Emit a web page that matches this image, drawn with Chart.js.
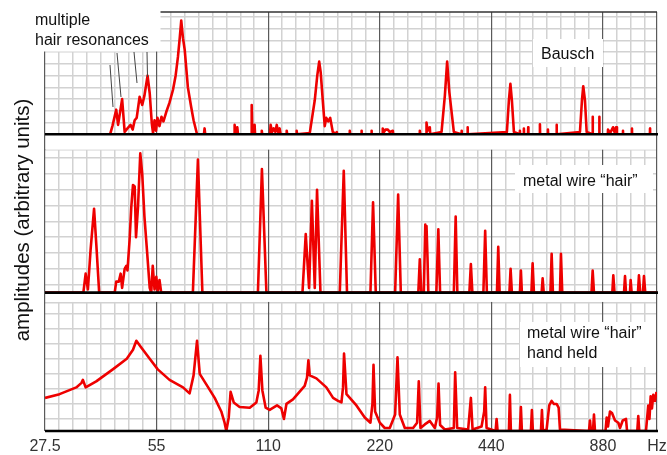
<!DOCTYPE html>
<html>
<head>
<meta charset="utf-8">
<script src="https://cdn.jsdelivr.net/npm/chart.js@4.4.1/dist/chart.umd.min.js"></script>
<style>
html,body{margin:0;padding:0;background:#fff;}
canvas{display:block;}
</style>
</head>
<body>
<canvas id="c" width="667" height="455"></canvas>
<script>
// ---- axis / tick data ----
const octaveTicks = [27.5, 55, 110, 220, 440, 880];
const xTickLabels = ['27.5', '55', '110', '220', '440', '880', 'Hz'];
const xMin = 27.5;
const xMax = 1231;
const gridPerOctave = 8;

const yTicksTop = [10, 20, 30, 40, 50, 60, 70, 80, 90, 100];
const yMaxTop = 104.3;
const yTicksMid = [5, 15, 25, 35, 45, 55, 65, 75, 85, 90];
const yMaxMid = 100;
const yTicksBot = [8, 18, 28, 38, 48, 58, 68, 78, 85.5];
const yMaxBot = 92;

const panelTitles = ['Bausch', 'metal wire \u201chair\u201d', 'metal wire \u201chair\u201d', 'hand held'];
const hairNote = ['multiple', 'hair resonances'];
const yAxisLabel = 'amplitudes (arbitrary units)';

// ---- series: [frequency Hz, amplitude] ----
const bausch = [
[27.5,0],[41.2,0],[41.8,7],[42.8,21],[43.3,8],[44.4,30],[45.1,2],[45.9,5],[46.8,8],[47.4,4],[48.0,12],[48.6,14],[49.5,32],[50.3,25],[51.0,33],[52.0,50],[52.7,35],[53.4,9],[53.8,1],[54.3,12],[54.8,3],[55.3,14],[56.0,7],[56.7,15],[57.4,11],[58.4,19],[59.6,27],[60.9,38],[61.9,50],[62.8,66],[63.5,82],[64.1,97],[64.8,82],[65.5,72],[66.8,40],[68.2,23],[69.2,12],[70.7,0],
[73.8,0],[74.1,5],[74.4,0],
[89.0,0],[89.3,8],[89.9,2],[90.8,6],[91.2,0],
[99.0,0],[99.3,25],[99.7,0],[100.8,0],[101.1,8],[101.4,0],
[105.4,0],[105.7,3],[106.0,0],
[111.2,0],[111.7,8],[112.7,2],[113.8,5],[115.0,2],[116.0,8],[117.0,2],[118.1,5],[118.8,0],
[123.0,0],[123.4,3],[123.8,0],[131.0,0],[131.3,3],[131.6,0],
[142.4,1],[146.9,29],[149.2,50],[151.0,62],[152.4,53],[154.4,29],[156.3,7],[157.8,14],[159.7,11],[161.7,14],[164.3,2],
[168.0,0],[168.4,2],[168.8,0],[182.2,0],[182.6,3],[183.0,0],[195.8,0],[196.3,3],[196.8,0],[208.4,0],[208.9,3],[209.4,0],
[223.5,0],[224.1,5],[226,2],[228,4],[231.3,4],[234,2],[238.6,3],[239.2,0],
[281.5,0],[282.1,3],[283,0],[293.3,0],[294.1,10],[296,3],[298,5],[300.2,6],[301,0],
[322.9,2],[329.6,33],[334.3,62],[338.9,36],[348.5,2],
[365,0],[365.6,3],[366.2,0],[379,0],[379.5,6],[380.1,0],
[484.5,2],[490.6,29],[495.2,43],[499.8,29],[506.1,2],
[524.7,0],[525.3,3],[526,0],[537.8,0],[538.5,5],[539.2,0],[552.4,0],[553.1,6],[553.8,0],[594.2,0],[594.9,8.5],[595.6,0],[624.5,0],[625.2,4],[626,0],[659.1,0],[659.9,8],[660.7,0],
[762.8,2],[772.4,29],[778.6,41],[786.9,29],[795.3,2],
[824.5,0],[825.5,15],[826.5,0],[859.2,0],[860.2,15],[861.2,0],
[907,0],[908.1,4],[920,1],[936.7,6],[945,2],[954.3,6],[960,0],[996,0],[996.6,3],[997.2,0],[1053,0],[1053.8,5],[1054.6,0],[1178,0],[1178.7,5],[1179.4,0],[1231,0]
];

const wire = [
[27.5,0],[34.9,0],[35.4,12],[35.9,2],[36.5,27],[37.3,53],[37.9,27],[38.5,0],
[42.4,0],[42.8,7],[43.5,7],[44.0,12],[44.4,3],[45.1,15],[45.6,17],[45.9,14],[46.5,33],[47.0,54],[47.5,68],[48.0,67],[48.4,35],[49.0,54],[49.7,88],[50.3,75],[51.0,48],[51.8,27],[52.7,3],[53.2,0],[53.7,17],[54.3,2],[54.9,10],[55.4,1],[56.0,8],[56.6,0],
[68.9,0],[71.1,84],[73.1,0],
[103.2,0],[105.8,78],[108.8,0],
[136.1,0],[138.9,37],[141.8,3],[144.3,58],[146.9,3],[149.0,65],[152.2,0],
[171.6,0],[175.9,77],[179.5,0],
[207.6,0],[211.0,57],[214.6,0],
[242.0,0],[246.6,62],[250.7,0],
[279.5,0],[282.1,21],[284.7,0],
[289.2,0],[291.9,43],[293.2,30],[294.1,42],[295.9,22],[297.4,0],
[312.6,0],[316.5,40],[320.0,0],
[348.5,0],[352.5,48],[356.2,0],
[383.8,0],[387.4,18],[391.0,0],
[418.7,0],[423.4,39],[427.9,0],
[455.5,0],[459.2,29],[463.2,0],
[492.1,0],[495.8,15],[499.8,0],
[525.3,0],[528.6,14],[531.8,0],
[564.3,0],[568.5,18.5],[573.1,0],
[601.2,0],[605.0,9],[609.1,0],
[635.0,0],[639.8,24.5],[644.9,0],
[673.7,0],[677.9,24.5],[683.4,0],
[819.5,0],[825.5,14],[832.2,0],
[932.6,0],[938.4,11],[945.4,0],
[1002.9,0],[1009.2,10.5],[1015.5,0],
[1040.6,0],[1045.1,8],[1051.6,0],
[1093.6,0],[1100.4,11],[1109.3,0],
[1128.1,0],[1135.1,10.5],[1144.4,0],[1231,0]
];

const handHeld = [
[27.5,22],[30.1,24.5],[33.4,29],[34.5,32],[34.8,34],[35.4,29],[37.8,33],[41.9,41],[45.7,48],[47.5,54],[48.5,60],[50.0,55.5],[52.7,48],[55.4,41],[59.6,34],[64.8,29],[67.5,25],[69.2,37],[70.7,60],[71.9,38],[74.9,31],[78.9,22],[82.2,13],[83.9,5.5],[84.8,0],[86.1,9],[87.1,26],[88.8,19],[92.1,16],[98.1,15.5],[102.2,19],[103.7,27],[104.8,50],[106.1,27],[108.3,15.5],[111.0,14],[116.2,17],[119.4,15],[121.3,8],[123.2,18],[128.3,21],[138.0,30],[140.0,35.5],[141.2,47],[142.4,37],[148.4,35],[157.9,29],[164.6,22],[169.8,20],[173.4,19],[175.1,29],[176.2,51.5],[178.9,24.5],[190.3,17],[200.4,9],[207.6,5.5],[210.2,18],[211.6,44],[213.7,13],[220.0,5.5],[226.9,2],[234.1,2],[242.0,11],[245.6,49],[249.1,11],[257.0,2],[270.6,2],[277.4,5.5],[280.3,33],[283.3,2],[291.0,4.4],[300.2,6.7],[309.7,2],[314.1,9],[316.9,31.5],[320.0,4],[329.6,1],[348.5,2],[351.4,39],[355.8,2],[380.9,1],[387.4,22],[391.5,1],[414.0,3],[420.8,13],[423.4,29],[427.1,2],
[451.7,0],[454.5,8],[457.4,0],[490.6,0],[493.7,24],[496.7,0],[525.3,0],[528.6,16],[531.8,0],[562.5,0],[565.9,14],[569.4,0],[598.7,0],[602.4,14],[606.1,0],
[620.1,1],[630.3,17],[639.8,20],[648.9,18],[659.9,18],[668.2,15.5],[673.7,1],
[806.8,0],[811.8,7],[816.9,0],[827.0,0],[832.2,11],[837.4,0],
[893.9,0],[900.6,9],[907.9,3],[919.3,13],[930.8,12],[948.4,7],[968.1,5.5],[978.4,2],[995.0,7],[1015.6,8],[1022.0,0],
[1089.0,0],[1095.9,10],[1102.7,0],
[1149.4,0],[1166.0,17],[1174.7,8],[1183.5,23],[1193.1,15],[1202.8,24],[1215.5,20],[1227.0,26]
];

// ---- helpers ----
const FONT = '"Liberation Sans", Arial, sans-serif';
const RED = 'rgb(238,0,0)';
const MINOR = '#d2d2d2';
const MAJOR = '#5a5a5a';

function toPoints(arr) { return arr.map(p => ({ x: p[0], y: p[1] })); }

const xGridValues = (() => {
  const t = [];
  for (let k = 0; ; k++) {
    const v = xMin * Math.pow(2, k / gridPerOctave);
    if (v >= xMax - 1) break;
    t.push(v);
  }
  t.push(xMax);
  return t;
})();

function isMajor(v) {
  if (Math.abs(v - xMax) < 0.01) return true;
  return octaveTicks.some(o => Math.abs(o - v) < 0.01);
}
function labelFor(v) {
  if (Math.abs(v - xMax) < 0.01) return xTickLabels[xTickLabels.length - 1];
  const i = octaveTicks.findIndex(o => Math.abs(o - v) < 0.01);
  return i >= 0 ? xTickLabels[i] : '';
}

function yScale(ticks, max, weight, stackWeight) {
  return {
    type: 'linear', position: 'left', stack: 'panels', stackWeight: stackWeight, weight: weight,
    min: 0, max: max,
    afterBuildTicks: s => { s.ticks = ticks.map(v => ({ value: v })); },
    ticks: { display: false },
    grid: { drawTicks: false, color: MINOR, lineWidth: 1.5 },
    border: { display: false }
  };
}

const decor = {
  id: 'decor',
  beforeDraw(chart) {
    const c = chart.ctx;
    c.save(); c.fillStyle = '#fff'; c.fillRect(0, 0, chart.width, chart.height); c.restore();
  },
  beforeDatasetsDraw(chart) {
    const c = chart.ctx, a = chart.chartArea, s = chart.scales;
    c.save();
    c.fillStyle = '#fff';
    const g1t = s.yTop.getPixelForValue(0), g1b = s.yMid.getPixelForValue(yTicksMid[yTicksMid.length - 1]);
    c.fillRect(a.left + 1, g1t, a.right - a.left - 2, g1b - g1t - 0.5);
    const g2t = s.yMid.getPixelForValue(0), g2b = s.yBot.getPixelForValue(yTicksBot[yTicksBot.length - 1]);
    c.fillRect(a.left + 1, g2t, a.right - a.left - 2, g2b - g2t - 0.5);
    c.restore();
  },
  afterDatasetsDraw(chart) {
    const c = chart.ctx, a = chart.chartArea, s = chart.scales;
    c.save();
    // baselines
    c.strokeStyle = '#000'; c.lineWidth = 2.6;
    ['yTop', 'yMid', 'yBot'].forEach(id => {
      const y = s[id].getPixelForValue(0);
      c.beginPath(); c.moveTo(a.left, y); c.lineTo(a.right + 1, y); c.stroke();
    });
    // top frame
    c.strokeStyle = '#333'; c.lineWidth = 1.5;
    c.beginPath(); c.moveTo(a.left, a.top); c.lineTo(a.right, a.top); c.stroke();

    // annotation boxes
    c.fillStyle = '#fff';
    c.fillRect(0, 0, 160.5, 51.5);
    c.fillRect(533, 39, 70, 28);
    c.fillRect(515, 165, 138, 28);
    c.fillRect(520, 322, 136, 45);

    c.fillStyle = '#111';
    c.font = '16px ' + FONT;
    c.textAlign = 'left'; c.textBaseline = 'alphabetic';
    c.fillText(hairNote[0], 35, 25);
    c.fillText(hairNote[1], 35, 44.5);
    c.fillText(panelTitles[0], 541, 59);
    c.fillText(panelTitles[1], 523, 186);
    c.fillText(panelTitles[2], 527, 338);
    c.fillText(panelTitles[3], 527, 358);

    // pointer strokes
    c.strokeStyle = '#444'; c.lineWidth = 1;
    [[110, 65, 113, 107], [117, 53, 121, 97], [134, 52, 137, 83], [147, 52, 147.5, 77]].forEach(l => {
      c.beginPath(); c.moveTo(l[0], l[1]); c.lineTo(l[2], l[3]); c.stroke();
    });

    // y axis title
    c.translate(29, 220);
    c.rotate(-Math.PI / 2);
    c.textAlign = 'center';
    c.font = '20.5px ' + FONT;
    c.fillStyle = '#111';
    c.fillText(yAxisLabel, 0, 0);
    c.restore();
  }
};

const common = { borderColor: RED, borderWidth: 2.6, pointRadius: 0, tension: 0, fill: false, borderJoinStyle: 'round' };

new Chart(document.getElementById('c'), {
  type: 'line',
  data: {
    datasets: [
      Object.assign({ label: panelTitles[0], data: toPoints(bausch), yAxisID: 'yTop' }, common),
      Object.assign({ label: panelTitles[1], data: toPoints(wire), yAxisID: 'yMid' }, common),
      Object.assign({ label: panelTitles[2] + ' ' + panelTitles[3], data: toPoints(handHeld), yAxisID: 'yBot' }, common)
    ]
  },
  options: {
    responsive: false,
    animation: false,
    devicePixelRatio: 1,
    layout: { padding: { left: 45, right: 10, top: 12, bottom: -8 } },
    plugins: { legend: { display: false }, title: { display: false }, tooltip: { enabled: false } },
    scales: {
      yTop: yScale(yTicksTop, yMaxTop, 3, 122),
      yMid: yScale(yTicksMid, yMaxMid, 2, 158),
      yBot: yScale(yTicksBot, yMaxBot, 1, 138),
      x: {
        type: 'logarithmic', position: 'bottom', min: xMin, max: xMax,
        afterBuildTicks: s => { s.ticks = xGridValues.map(v => ({ value: v })); },
        afterFit: s => { s.paddingLeft = 0; s.paddingRight = 0; },
        ticks: {
          autoSkip: false, maxRotation: 0, minRotation: 0, padding: 8,
          color: '#333', font: { family: FONT, size: 16, lineHeight: 1.0 },
          callback: v => labelFor(v)
        },
        grid: {
          drawTicks: false,
          color: ctx => (ctx.tick && isMajor(ctx.tick.value)) ? MAJOR : MINOR,
          lineWidth: ctx => (ctx.tick && isMajor(ctx.tick.value)) ? 1.2 : 1.5
        },
        border: { display: false }
      }
    }
  },
  plugins: [decor]
});
</script>
</body>
</html>
